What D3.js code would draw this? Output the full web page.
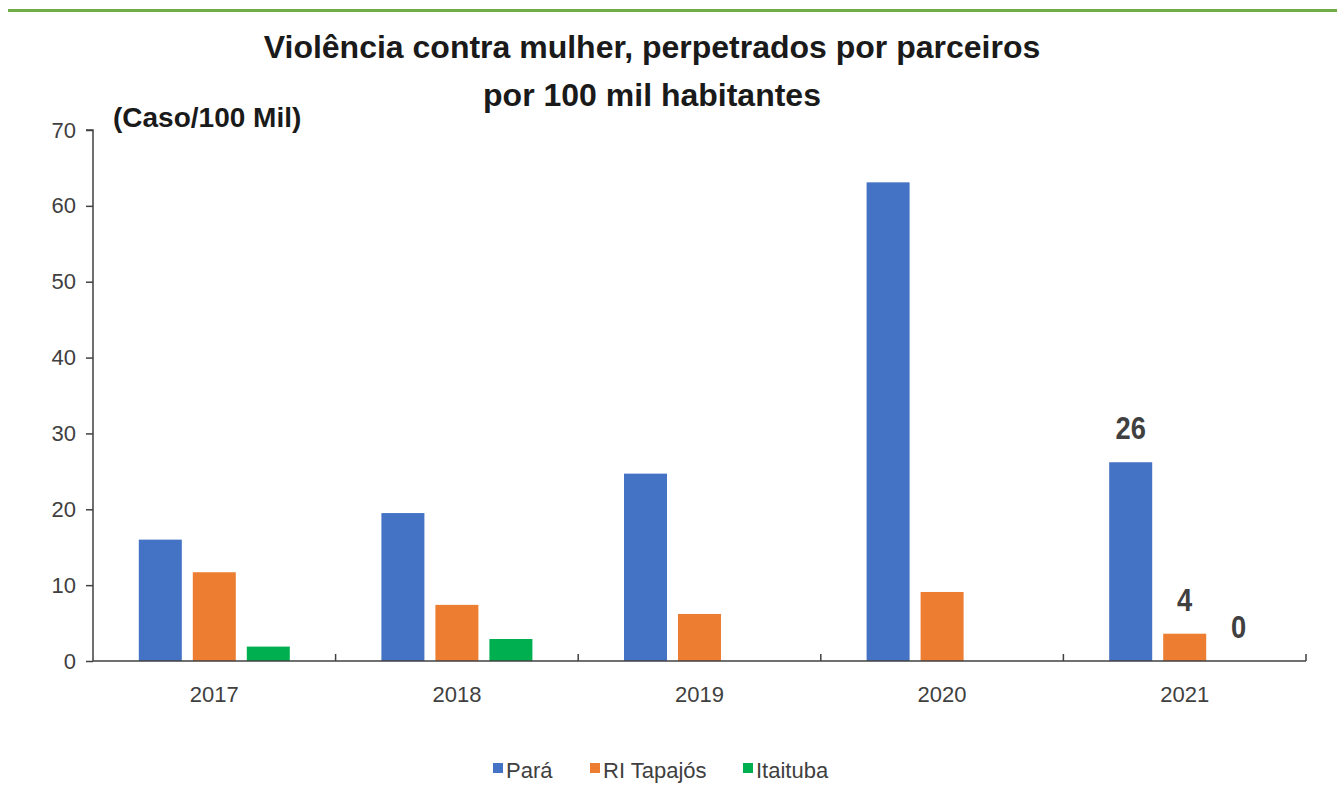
<!DOCTYPE html>
<html><head><meta charset="utf-8">
<script src="https://cdn.jsdelivr.net/npm/d3@7"></script>
<style>
body{margin:0;background:#fff;}
text{font-family:"Liberation Sans",Arial,sans-serif;}
</style></head><body>
<svg id="c" width="1337" height="805"></svg>
<script>
const categories = ["2017","2018","2019","2020","2021"];
const seriesNames = ["Pará","RI Tapajós","Itaituba"];
const para = [16.0, 19.5, 24.7, 63.1, 26.2];
const riTapajos = [11.7, 7.4, 6.2, 9.1, 3.6];
const itaituba = [1.9, 2.9, null, null, 0];
const yTicks = [0,10,20,30,40,50,60,70];
const dataLabels = [null, null, null, null, ["26","4","0"]];
const colors = ["#4472C4","#ED7D31","#00B050"];

const svg = d3.select("#c");
const W = 1337, H = 805;
svg.append("rect").attr("x",8).attr("y",9).attr("width",W-8).attr("height",3).attr("fill","#70AD47");

const x0 = 93, x1 = 1306, y0 = 661, y1 = 130;
const x = d3.scaleBand().domain(categories).range([x0,x1]);
const y = d3.scaleLinear().domain([0,70]).range([y0,y1]);
const barW = 43, gap = 11;
const xs = d3.scaleBand().domain(seriesNames).range([0, 3*barW+2*gap]).paddingInner(gap/(barW+gap));

const series = [para, riTapajos, itaituba];
const g = svg.append("g");
series.forEach((vals,si)=>{
  g.selectAll(null).data(categories.map((c,i)=>({c,v:vals[i]})).filter(d=>d.v!=null && d.v>0))
   .enter().append("rect")
   .attr("x",d=>x(d.c)+x.bandwidth()/2-(3*barW+2*gap)/2+xs(seriesNames[si]))
   .attr("y",d=>y(d.v)).attr("width",xs.bandwidth()).attr("height",d=>y0-y(d.v))
   .attr("fill",colors[si]);
});

// data labels
categories.forEach((c,i)=>{
  if(!dataLabels[i]) return;
  series.forEach((vals,si)=>{
    const cx = x(c)+x.bandwidth()/2-(3*barW+2*gap)/2+xs(seriesNames[si])+xs.bandwidth()/2;
    const by = y(vals[i])-23;
    svg.append("text").attr("transform",`translate(${cx},${by}) scale(0.88,1)`)
      .attr("text-anchor","middle").attr("font-size",31).attr("font-weight","bold")
      .attr("fill","#404040").text(dataLabels[i][si]);
  });
});

// y axis
const yAxis = d3.axisLeft(y).tickValues(yTicks).tickSize(7).tickPadding(10);
const ya = svg.append("g").attr("transform",`translate(${x0},0)`).call(yAxis);
ya.select(".domain").attr("stroke","#404040").attr("stroke-width",1.5).attr("d",`M-7,${y1}H0V${y0}`);
ya.selectAll(".tick line").attr("stroke","#404040").attr("stroke-width",1.5);
ya.selectAll(".tick text").attr("font-size",22).attr("fill","#404040")
  .style("font-family","'Liberation Sans',Arial,sans-serif");

// x axis
const xa = svg.append("g");
xa.append("line").attr("x1",x0).attr("x2",x1).attr("y1",y0).attr("y2",y0).attr("stroke","#404040").attr("stroke-width",1.5);
const bounds = categories.map(c=>x(c)).concat([x1]);
xa.selectAll(null).data(bounds.slice(1)).enter().append("line")
  .attr("x1",d=>d).attr("x2",d=>d).attr("y1",y0).attr("y2",y0-7).attr("stroke","#404040").attr("stroke-width",1.5);
xa.selectAll(null).data(categories).enter().append("text")
  .attr("x",d=>x(d)+x.bandwidth()/2).attr("y",702).attr("text-anchor","middle")
  .attr("font-size",22).attr("fill","#404040").text(d=>d);

// title
const title = ["Violência contra mulher, perpetrados por parceiros","por 100 mil habitantes"];
svg.selectAll(".title").data(title).enter().append("text")
  .attr("x",652).attr("y",(d,i)=>58+i*48).attr("text-anchor","middle")
  .attr("font-size",32).attr("font-weight","bold").attr("fill","#1a1a1a").text(d=>d);

svg.append("text").attr("x",113).attr("y",127).attr("font-size",28).attr("font-weight","bold")
  .attr("fill","#1a1a1a").text("(Caso/100 Mil)");

// legend
const legX = [493, 590, 743];
seriesNames.forEach((n,i)=>{
  svg.append("rect").attr("x",legX[i]).attr("y",763).attr("width",10).attr("height",10).attr("fill",colors[i]);
  svg.append("text").attr("x",legX[i]+13).attr("y",778).attr("font-size",22).attr("fill","#404040").text(n);
});
</script></body></html>
